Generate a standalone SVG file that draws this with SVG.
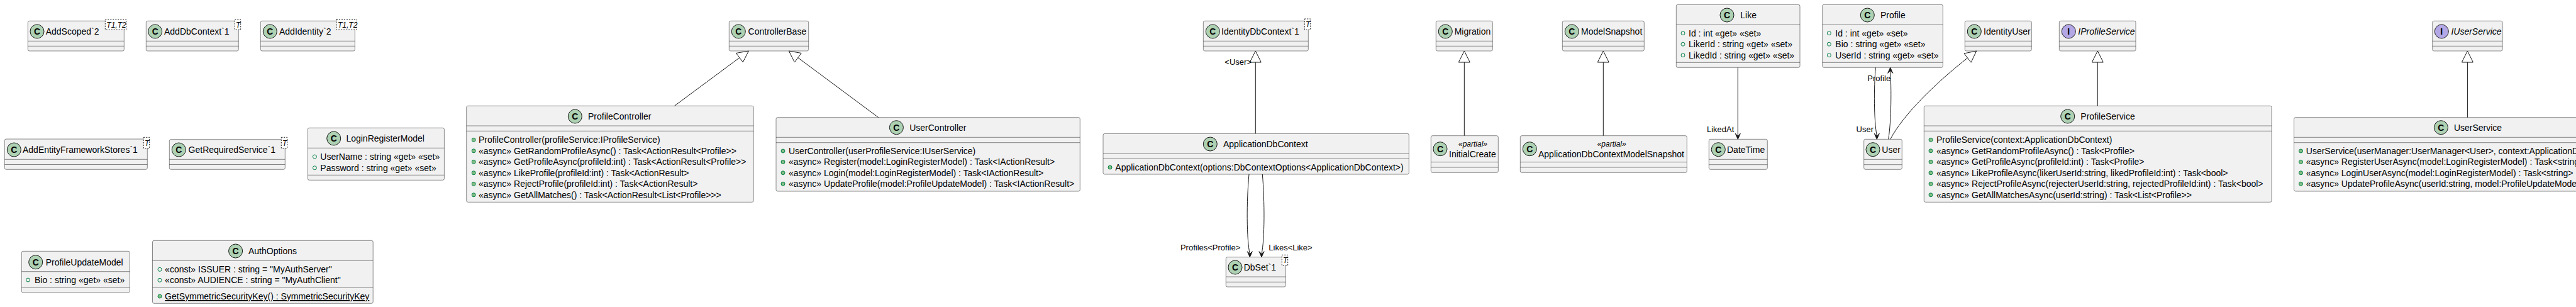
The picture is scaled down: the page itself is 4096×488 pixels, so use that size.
<svg xmlns="http://www.w3.org/2000/svg" width="4096" height="488" viewBox="0 0 4096 488">
<style>
.box{fill:#F1F1F1;stroke:#181818;stroke-width:0.5}
.sep{stroke:#181818;stroke-width:0.5}
.cc{fill:#ADD1B2;stroke:#181818;stroke-width:1}
.ci{fill:#B4A7E5;stroke:#181818;stroke-width:1}
text{font-family:'Liberation Sans',Arial,sans-serif;fill:#000000}
.t{font-size:14px}
.cl{font-size:14px;font-weight:bold;text-anchor:middle}
.it{font-style:italic}
.st{font-size:12px;font-style:italic;text-anchor:middle}
.lbl{font-size:13px}
.lr{font-size:13px;text-anchor:end}
.tpl{fill:#FFFFFF;stroke:#181818;stroke-width:1;stroke-dasharray:2,2}
.tt{font-size:12px;font-style:italic}
.fld{fill:none;stroke:#038048;stroke-width:1}
.mth{fill:#84BE84;stroke:#038048;stroke-width:1}
.edge{fill:none;stroke:#181818;stroke-width:1}
.tri{fill:none;stroke:#181818;stroke-width:1}
.ah{fill:#181818;stroke:#181818;stroke-width:1}
</style>

<g id="AddScoped2">
<rect class="box" x="44.3" y="33.3" width="153" height="47.7" rx="2.5"/>
<circle class="cc" cx="59" cy="50" r="11"/><text class="cl" x="59" y="55">C</text>
<text class="t" x="72.7" y="55">AddScoped`2</text>
<line class="sep" x1="44.3" y1="65.3" x2="197.3" y2="65.3"/><line class="sep" x1="44.3" y1="73.3" x2="197.3" y2="73.3"/>
<rect class="tpl" x="167.3" y="30.7" width="33.4" height="16.6"/><text class="tt" x="169.3" y="43.5">T1,T2</text>
</g>

<g id="AddDbContext1">
<rect class="box" x="232.3" y="33.3" width="147" height="47.7" rx="2.5"/>
<circle class="cc" cx="246.7" cy="50" r="11"/><text class="cl" x="246.7" y="55">C</text>
<text class="t" x="261" y="55">AddDbContext`1</text>
<line class="sep" x1="232.3" y1="65.3" x2="379.3" y2="65.3"/><line class="sep" x1="232.3" y1="73.3" x2="379.3" y2="73.3"/>
<rect class="tpl" x="373.3" y="30.7" width="9.4" height="16.6"/><text class="tt" x="375" y="43.5">T</text>
</g>

<g id="AddIdentity2">
<rect class="box" x="414.3" y="33.3" width="150" height="47.7" rx="2.5"/>
<circle class="cc" cx="429.3" cy="50" r="11"/><text class="cl" x="429.3" y="55">C</text>
<text class="t" x="444" y="55">AddIdentity`2</text>
<line class="sep" x1="414.3" y1="65.3" x2="564.3" y2="65.3"/><line class="sep" x1="414.3" y1="73.3" x2="564.3" y2="73.3"/>
<rect class="tpl" x="535" y="30.7" width="32.3" height="16.6"/><text class="tt" x="537" y="43.5">T1,T2</text>
</g>

<g id="ControllerBase">
<rect class="box" x="1159.3" y="33.3" width="126.4" height="47.7" rx="2.5"/>
<circle class="cc" cx="1174.3" cy="50" r="11"/><text class="cl" x="1174.3" y="55">C</text>
<text class="t" x="1189.6" y="55">ControllerBase</text>
<line class="sep" x1="1159.3" y1="65.3" x2="1285.7" y2="65.3"/><line class="sep" x1="1159.3" y1="73.3" x2="1285.7" y2="73.3"/>
</g>

<g id="IdentityDbContext1">
<rect class="box" x="1913.3" y="33.3" width="167" height="47.7" rx="2.5"/>
<circle class="cc" cx="1928.3" cy="50" r="11"/><text class="cl" x="1928.3" y="55">C</text>
<text class="t" x="1942" y="55">IdentityDbContext`1</text>
<line class="sep" x1="1913.3" y1="65.3" x2="2080.3" y2="65.3"/><line class="sep" x1="1913.3" y1="73.3" x2="2080.3" y2="73.3"/>
<rect class="tpl" x="2074.3" y="30" width="9.4" height="17.3"/><text class="tt" x="2076" y="43">T</text>
</g>

<g id="Migration">
<rect class="box" x="2283.3" y="33.3" width="90" height="47.7" rx="2.5"/>
<circle class="cc" cx="2298.3" cy="50" r="11"/><text class="cl" x="2298.3" y="55">C</text>
<text class="t" x="2312.7" y="55">Migration</text>
<line class="sep" x1="2283.3" y1="65.3" x2="2373.3" y2="65.3"/><line class="sep" x1="2283.3" y1="73.3" x2="2373.3" y2="73.3"/>
</g>

<g id="ModelSnapshot">
<rect class="box" x="2484.3" y="33.3" width="130" height="47.7" rx="2.5"/>
<circle class="cc" cx="2499.3" cy="50" r="11"/><text class="cl" x="2499.3" y="55">C</text>
<text class="t" x="2514" y="55">ModelSnapshot</text>
<line class="sep" x1="2484.3" y1="65.3" x2="2614.3" y2="65.3"/><line class="sep" x1="2484.3" y1="73.3" x2="2614.3" y2="73.3"/>
</g>

<g id="IdentityUser">
<rect class="box" x="3124.3" y="33.3" width="106" height="47.7" rx="2.5"/>
<circle class="cc" cx="3139.3" cy="50" r="11"/><text class="cl" x="3139.3" y="55">C</text>
<text class="t" x="3154" y="55">IdentityUser</text>
<line class="sep" x1="3124.3" y1="65.3" x2="3230.3" y2="65.3"/><line class="sep" x1="3124.3" y1="73.3" x2="3230.3" y2="73.3"/>
</g>

<g id="IProfileService">
<rect class="box" x="3274.3" y="33.3" width="121.7" height="47.7" rx="2.5"/>
<circle class="ci" cx="3289.3" cy="50" r="11"/><text class="cl" x="3289.3" y="55">I</text>
<text class="t it" x="3304.3" y="55">IProfileService</text>
<line class="sep" x1="3274.3" y1="65.3" x2="3396" y2="65.3"/><line class="sep" x1="3274.3" y1="73.3" x2="3396" y2="73.3"/>
</g>

<g id="IUserService">
<rect class="box" x="3867.7" y="33.3" width="111.4" height="47.7" rx="2.5"/>
<circle class="ci" cx="3882.3" cy="50" r="11"/><text class="cl" x="3882.3" y="55">I</text>
<text class="t it" x="3897.4" y="55">IUserService</text>
<line class="sep" x1="3867.7" y1="65.3" x2="3979.1" y2="65.3"/><line class="sep" x1="3867.7" y1="73.3" x2="3979.1" y2="73.3"/>
</g>

<g id="Like">
<rect class="box" x="2665.3" y="7.3" width="196.7" height="100" rx="2.5"/>
<circle class="cc" cx="2746" cy="24" r="11"/><text class="cl" x="2746" y="29">C</text>
<text class="t" x="2767.3" y="29">Like</text>
<line class="sep" x1="2665.3" y1="39.3" x2="2862" y2="39.3"/>
<circle class="fld" cx="2676" cy="52.7" r="3"/><text class="t" x="2685" y="57.7">Id : int «get» «set»</text>
<circle class="fld" cx="2676" cy="70.2" r="3"/><text class="t" x="2685" y="75.2">LikerId : string «get» «set»</text>
<circle class="fld" cx="2676" cy="87.7" r="3"/><text class="t" x="2685" y="92.7">LikedId : string «get» «set»</text>
<line class="sep" x1="2665.3" y1="99.3" x2="2862" y2="99.3"/>
</g>

<g id="Profile">
<rect class="box" x="2897.7" y="7.3" width="191.6" height="100" rx="2.5"/>
<circle class="cc" cx="2969.3" cy="24" r="11"/><text class="cl" x="2969.3" y="29">C</text>
<text class="t" x="2990" y="29">Profile</text>
<line class="sep" x1="2897.7" y1="39.3" x2="3089.3" y2="39.3"/>
<circle class="fld" cx="2908.3" cy="52.7" r="3"/><text class="t" x="2918.3" y="57.7">Id : int «get» «set»</text>
<circle class="fld" cx="2908.3" cy="70.2" r="3"/><text class="t" x="2918.3" y="75.2">Bio : string «get» «set»</text>
<circle class="fld" cx="2908.3" cy="87.7" r="3"/><text class="t" x="2918.3" y="92.7">UserId : string «get» «set»</text>
<line class="sep" x1="2897.7" y1="99.3" x2="3089.3" y2="99.3"/>
</g>

<g id="AddEntityFrameworkStores1">
<rect class="box" x="7.3" y="221" width="227" height="48.3" rx="2.5"/>
<circle class="cc" cx="22.3" cy="238" r="11"/><text class="cl" x="22.3" y="243">C</text>
<text class="t" x="36" y="243">AddEntityFrameworkStores`1</text>
<line class="sep" x1="7.3" y1="253.3" x2="234.3" y2="253.3"/><line class="sep" x1="7.3" y1="261.5" x2="234.3" y2="261.5"/>
<rect class="tpl" x="228.3" y="218.3" width="9.4" height="17.4"/><text class="tt" x="230" y="231.5">T</text>
</g>

<g id="GetRequiredService1">
<rect class="box" x="269.3" y="221.7" width="184" height="47.6" rx="2.5"/>
<circle class="cc" cx="284.3" cy="238" r="11"/><text class="cl" x="284.3" y="243">C</text>
<text class="t" x="299.6" y="243">GetRequiredService`1</text>
<line class="sep" x1="269.3" y1="253.3" x2="453.3" y2="253.3"/><line class="sep" x1="269.3" y1="261.5" x2="453.3" y2="261.5"/>
<rect class="tpl" x="447.3" y="218.3" width="9.4" height="17.4"/><text class="tt" x="449" y="231.5">T</text>
</g>

<g id="LoginRegisterModel">
<rect class="box" x="489.3" y="203.3" width="217.1" height="83" rx="2.5"/>
<circle class="cc" cx="530.7" cy="220" r="11"/><text class="cl" x="530.7" y="225">C</text>
<text class="t" x="550.4" y="225">LoginRegisterModel</text>
<line class="sep" x1="489.3" y1="235.3" x2="706.4" y2="235.3"/>
<circle class="fld" cx="500.4" cy="249" r="3"/><text class="t" x="509.3" y="254">UserName : string «get» «set»</text>
<circle class="fld" cx="500.4" cy="266.8" r="3"/><text class="t" x="509.3" y="271.8">Password : string «get» «set»</text>
<line class="sep" x1="489.3" y1="278.3" x2="706.4" y2="278.3"/>
</g>

<g id="ProfileController">
<rect class="box" x="741.7" y="168.3" width="456.5" height="153" rx="2.5"/>
<circle class="cc" cx="914.3" cy="185" r="11"/><text class="cl" x="914.3" y="190">C</text>
<text class="t" x="935" y="190">ProfileController</text>
<line class="sep" x1="741.7" y1="200" x2="1198.2" y2="200"/><line class="sep" x1="741.7" y1="208.3" x2="1198.2" y2="208.3"/>
<circle class="mth" cx="753.2" cy="222.3" r="3"/><text class="t" x="761" y="227.3">ProfileController(profileService:IProfileService)</text>
<circle class="mth" cx="753.2" cy="239.8" r="3"/><text class="t" x="761" y="244.8">«async» GetRandomProfileAsync() : Task&lt;ActionResult&lt;Profile&gt;&gt;</text>
<circle class="mth" cx="753.2" cy="257.3" r="3"/><text class="t" x="761" y="262.3">«async» GetProfileAsync(profileId:int) : Task&lt;ActionResult&lt;Profile&gt;&gt;</text>
<circle class="mth" cx="753.2" cy="274.8" r="3"/><text class="t" x="761" y="279.8">«async» LikeProfile(profileId:int) : Task&lt;ActionResult&gt;</text>
<circle class="mth" cx="753.2" cy="292.3" r="3"/><text class="t" x="761" y="297.3">«async» RejectProfile(profileId:int) : Task&lt;ActionResult&gt;</text>
<circle class="mth" cx="753.2" cy="309.8" r="3"/><text class="t" x="761" y="314.8">«async» GetAllMatches() : Task&lt;ActionResult&lt;List&lt;Profile&gt;&gt;&gt;</text>
</g>

<g id="UserController">
<rect class="box" x="1234" y="186.7" width="483.3" height="117.3" rx="2.5"/>
<circle class="cc" cx="1425.4" cy="202.7" r="11"/><text class="cl" x="1425.4" y="207.7">C</text>
<text class="t" x="1446.2" y="207.7">UserController</text>
<line class="sep" x1="1234" y1="218.3" x2="1717.3" y2="218.3"/><line class="sep" x1="1234" y1="226.7" x2="1717.3" y2="226.7"/>
<circle class="mth" cx="1245" cy="240" r="3"/><text class="t" x="1254" y="245">UserController(userProfileService:IUserService)</text>
<circle class="mth" cx="1245" cy="257.4" r="3"/><text class="t" x="1254" y="262.4">«async» Register(model:LoginRegisterModel) : Task&lt;IActionResult&gt;</text>
<circle class="mth" cx="1245" cy="274.8" r="3"/><text class="t" x="1254" y="279.8">«async» Login(model:LoginRegisterModel) : Task&lt;IActionResult&gt;</text>
<circle class="mth" cx="1245" cy="292.2" r="3"/><text class="t" x="1254" y="297.2">«async» UpdateProfile(model:ProfileUpdateModel) : Task&lt;IActionResult&gt;</text>
</g>

<g id="ApplicationDbContext">
<rect class="box" x="1754" y="212.3" width="486.3" height="64.7" rx="2.5"/>
<circle class="cc" cx="1924.3" cy="229" r="11"/><text class="cl" x="1924.3" y="234">C</text>
<text class="t" x="1945" y="234">ApplicationDbContext</text>
<line class="sep" x1="1754" y1="244.3" x2="2240.3" y2="244.3"/><line class="sep" x1="1754" y1="252.3" x2="2240.3" y2="252.3"/>
<circle class="mth" cx="1765" cy="266" r="3"/><text class="t" x="1773.3" y="271">ApplicationDbContext(options:DbContextOptions&lt;ApplicationDbContext&gt;)</text>
</g>

<g id="InitialCreate">
<rect class="box" x="2275.3" y="215.7" width="107" height="58.6" rx="2.5"/>
<circle class="cc" cx="2290" cy="236.7" r="11"/><text class="cl" x="2290" y="241.7">C</text>
<text class="st" x="2342" y="233.3">«partial»</text>
<text class="t" x="2304" y="250">InitialCreate</text>
<line class="sep" x1="2275.3" y1="257.7" x2="2382.3" y2="257.7"/><line class="sep" x1="2275.3" y1="266" x2="2382.3" y2="266"/>
</g>

<g id="ApplicationDbContextModelSnapshot">
<rect class="box" x="2417.3" y="215.7" width="265" height="58.6" rx="2.5"/>
<circle class="cc" cx="2432.3" cy="236.7" r="11"/><text class="cl" x="2432.3" y="241.7">C</text>
<text class="st" x="2562.7" y="233.3">«partial»</text>
<text class="t" x="2446" y="250">ApplicationDbContextModelSnapshot</text>
<line class="sep" x1="2417.3" y1="257.7" x2="2682.3" y2="257.7"/><line class="sep" x1="2417.3" y1="266" x2="2682.3" y2="266"/>
</g>

<g id="DateTime">
<rect class="box" x="2717.3" y="221.3" width="93" height="48" rx="2.5"/>
<circle class="cc" cx="2732.3" cy="237.7" r="11"/><text class="cl" x="2732.3" y="242.7">C</text>
<text class="t" x="2746" y="242.7">DateTime</text>
<line class="sep" x1="2717.3" y1="253.3" x2="2810.3" y2="253.3"/><line class="sep" x1="2717.3" y1="261.7" x2="2810.3" y2="261.7"/>
</g>

<g id="User">
<rect class="box" x="2963.7" y="221.3" width="60.6" height="48" rx="2.5"/>
<circle class="cc" cx="2978" cy="237.7" r="11"/><text class="cl" x="2978" y="242.7">C</text>
<text class="t" x="2992.3" y="242.7">User</text>
<line class="sep" x1="2963.7" y1="253.3" x2="3024.3" y2="253.3"/><line class="sep" x1="2963.7" y1="261.7" x2="3024.3" y2="261.7"/>
</g>

<g id="ProfileService">
<rect class="box" x="3059.3" y="168.3" width="552.7" height="153" rx="2.5"/>
<circle class="cc" cx="3287.7" cy="185" r="11"/><text class="cl" x="3287.7" y="190">C</text>
<text class="t" x="3308.3" y="190">ProfileService</text>
<line class="sep" x1="3059.3" y1="200" x2="3612" y2="200"/><line class="sep" x1="3059.3" y1="208.3" x2="3612" y2="208.3"/>
<circle class="mth" cx="3070" cy="222.3" r="3"/><text class="t" x="3079" y="227.3">ProfileService(context:ApplicationDbContext)</text>
<circle class="mth" cx="3070" cy="239.8" r="3"/><text class="t" x="3079" y="244.8">«async» GetRandomProfileAsync() : Task&lt;Profile&gt;</text>
<circle class="mth" cx="3070" cy="257.3" r="3"/><text class="t" x="3079" y="262.3">«async» GetProfileAsync(profileId:int) : Task&lt;Profile&gt;</text>
<circle class="mth" cx="3070" cy="274.8" r="3"/><text class="t" x="3079" y="279.8">«async» LikeProfileAsync(likerUserId:string, likedProfileId:int) : Task&lt;bool&gt;</text>
<circle class="mth" cx="3070" cy="292.3" r="3"/><text class="t" x="3079" y="297.3">«async» RejectProfileAsync(rejecterUserId:string, rejectedProfileId:int) : Task&lt;bool&gt;</text>
<circle class="mth" cx="3070" cy="309.8" r="3"/><text class="t" x="3079" y="314.8">«async» GetAllMatchesAsync(userId:string) : Task&lt;List&lt;Profile&gt;&gt;</text>
</g>

<g id="UserService">
<rect class="box" x="3647.6" y="186.7" width="560" height="117.3" rx="2.5"/>
<circle class="cc" cx="3881.4" cy="202.7" r="11"/><text class="cl" x="3881.4" y="207.7">C</text>
<text class="t" x="3901.9" y="207.7">UserService</text>
<line class="sep" x1="3647.6" y1="218.3" x2="4207.6" y2="218.3"/><line class="sep" x1="3647.6" y1="226.7" x2="4207.6" y2="226.7"/>
<circle class="mth" cx="3658.5" cy="240" r="3"/><text class="t" x="3666.8" y="245">UserService(userManager:UserManager&lt;User&gt;, context:ApplicationDbContext)</text>
<circle class="mth" cx="3658.5" cy="257.4" r="3"/><text class="t" x="3666.8" y="262.4">«async» RegisterUserAsync(model:LoginRegisterModel) : Task&lt;string&gt;</text>
<circle class="mth" cx="3658.5" cy="274.8" r="3"/><text class="t" x="3666.8" y="279.8">«async» LoginUserAsync(model:LoginRegisterModel) : Task&lt;string&gt;</text>
<circle class="mth" cx="3658.5" cy="292.2" r="3"/><text class="t" x="3666.8" y="297.2">«async» UpdateProfileAsync(userId:string, model:ProfileUpdateModel)</text>
</g>

<g id="ProfileUpdateModel">
<rect class="box" x="34.3" y="399.3" width="172" height="65.7" rx="2.5"/>
<circle class="cc" cx="56.7" cy="416.7" r="11"/><text class="cl" x="56.7" y="421.7">C</text>
<text class="t" x="72.7" y="421.7">ProfileUpdateModel</text>
<line class="sep" x1="34.3" y1="431.7" x2="206.3" y2="431.7"/>
<circle class="fld" cx="44.5" cy="445" r="3"/><text class="t" x="55" y="450">Bio : string «get» «set»</text>
<line class="sep" x1="34.3" y1="457.3" x2="206.3" y2="457.3"/>
</g>

<g id="AuthOptions">
<rect class="box" x="242.5" y="382.3" width="350.7" height="100" rx="2.5"/>
<circle class="cc" cx="374.6" cy="399" r="11"/><text class="cl" x="374.6" y="404">C</text>
<text class="t" x="395" y="404">AuthOptions</text>
<line class="sep" x1="242.5" y1="414.3" x2="593.2" y2="414.3"/>
<circle class="fld" cx="254" cy="428.3" r="3"/><text class="t" x="262.1" y="433.3">«const» ISSUER : string = "MyAuthServer"</text>
<circle class="fld" cx="254" cy="445.3" r="3"/><text class="t" x="262.1" y="450.3">«const» AUDIENCE : string = "MyAuthClient"</text>
<line class="sep" x1="242.5" y1="457.3" x2="593.2" y2="457.3"/>
<circle class="mth" cx="254" cy="471" r="3"/><text class="t" x="262.1" y="476" text-decoration="underline">GetSymmetricSecurityKey() : SymmetricSecurityKey</text>
</g>

<g id="DbSet1">
<rect class="box" x="1949.3" y="408.7" width="95" height="47.3" rx="2.5"/>
<circle class="cc" cx="1964" cy="425" r="11"/><text class="cl" x="1964" y="430">C</text>
<text class="t" x="1977.7" y="430">DbSet`1</text>
<line class="sep" x1="1949.3" y1="440" x2="2044.3" y2="440"/><line class="sep" x1="1949.3" y1="448.3" x2="2044.3" y2="448.3"/>
<rect class="tpl" x="2038.3" y="405.3" width="9.4" height="16.7"/><text class="tt" x="2040" y="418">T</text>
</g>

<g id="connectors">
<path class="edge" d="M1072.5,168.3 L1175.9,91.7"/>
<polygon class="tri" points="1190.4,81 1181.3,98.9 1170.5,84.5"/>
<path class="edge" d="M1396.7,186.7 L1268.8,91.7"/>
<polygon class="tri" points="1254.3,81 1263.4,98.9 1274.2,84.5"/>
<path class="edge" d="M1996.3,212.3 L1996.3,99"/>
<polygon class="tri" points="1996.3,81 1987.3,99 2005.3,99"/>
<text class="lr" x="1990" y="103">&lt;User&gt;</text>
<path class="edge" d="M2328.3,215.7 L2328.3,99"/>
<polygon class="tri" points="2328.3,81 2319.3,99 2337.3,99"/>
<path class="edge" d="M2549.3,215.7 L2549.3,99"/>
<polygon class="tri" points="2549.3,81 2540.3,99 2558.3,99"/>
<path class="edge" d="M3335.3,168.3 L3335.3,99"/>
<polygon class="tri" points="3335.3,81 3326.3,99 3344.3,99"/>
<path class="edge" d="M3923.4,186.7 L3923.4,99"/>
<polygon class="tri" points="3923.4,81 3914.4,99 3932.4,99"/>
<path class="edge" d="M3005.7,221.3 C3028,180 3078,132 3128.5,92.1"/>
<polygon class="tri" points="3142.7,81 3134.1,99.2 3123,85"/>
<path class="edge" d="M1986,277 C1982,320 1982,380 1987.3,403.7"/>
<polygon class="ah" points="1987.3,408.7 1983.3,399.7 1987.3,403.7 1991.3,399.7"/>
<text class="lr" x="1972.3" y="398">Profiles&lt;Profile&gt;</text>
<path class="edge" d="M2007.3,277 C2011,320 2011,380 2006,403.7"/>
<polygon class="ah" points="2006,408.7 2002,399.7 2006,403.7 2010,399.7"/>
<text class="lbl" x="2017.3" y="398">Likes&lt;Like&gt;</text>
<path class="edge" d="M2763.3,107.3 L2763.3,216.3"/>
<polygon class="ah" points="2763.3,221.3 2759.3,212.3 2763.3,216.3 2767.3,212.3"/>
<text class="lr" x="2757.3" y="210">LikedAt</text>
<path class="edge" d="M2982.3,107.3 C2979.5,140 2979.5,190 2984.3,216.3"/>
<polygon class="ah" points="2984.3,221.3 2980.3,212.3 2984.3,216.3 2988.3,212.3"/>
<text class="lr" x="2979" y="209.5">User</text>
<path class="edge" d="M3002.7,221.3 C3007.5,190 3007.5,140 3005.7,112.3"/>
<polygon class="ah" points="3005.7,107.3 3001.7,116.3 3005.7,112.3 3009.7,116.3"/>
<text class="lbl" x="2969.3" y="129">Profile</text>
</g>
</svg>
